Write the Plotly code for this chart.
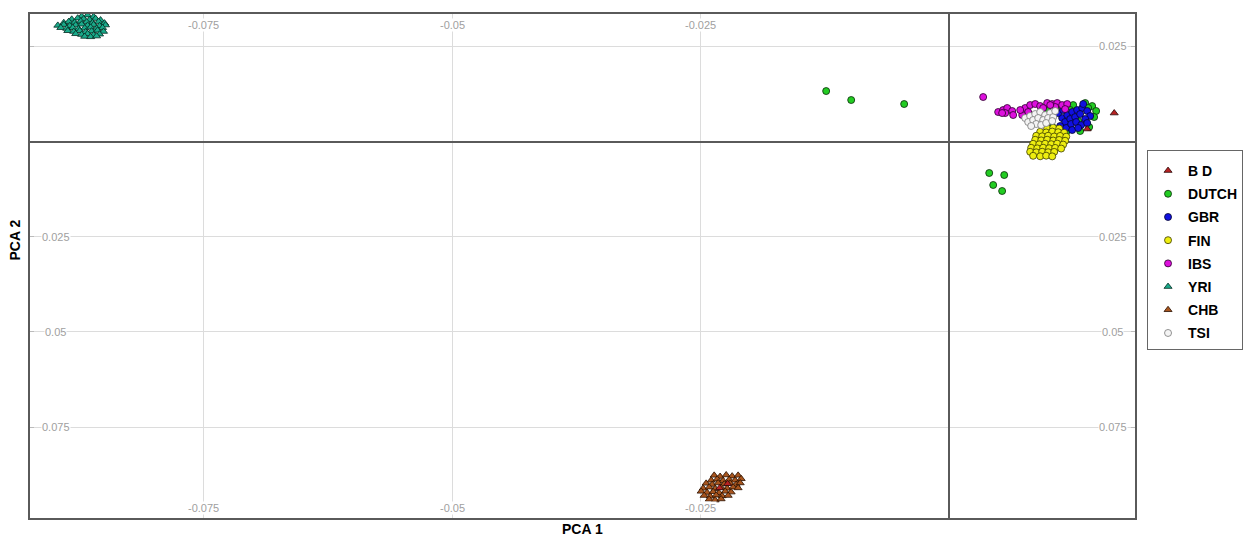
import plotly.graph_objects as go

# ---- sample coordinates on the first two principal components ----
groups = ["B D", "DUTCH", "GBR", "FIN", "IBS", "YRI", "CHB", "TSI"]

bd_pc1 = [0.01661, 0.01389, -0.0231, -0.0223]
bd_pc2 = [0.00748, 0.00328, -0.0910, -0.0899]

dutch_pc1 = [-0.01238, -0.00986, -0.00453, 0.00403, 0.00554, 0.00443, 0.00533,
             0.01097, 0.01178, 0.01248, 0.01369, 0.01439, 0.01479, 0.01459, 0.01409,
             0.01318, 0.01178, 0.01037, 0.00986, 0.01399, 0.01218, 0.01298, 0.00886]
dutch_pc2 = [0.01326, 0.01090, 0.00985, -0.00827, -0.00880, -0.01142, -0.01300,
             0.00932, 0.00932, 0.00958, 0.01011, 0.00932, 0.00801, 0.00643, 0.00381,
             0.00276, 0.00249, 0.00381, 0.00827, 0.00880, 0.00827, 0.00538, 0.00118]

gbr_pc1 = [0.01137, 0.01188, 0.01238, 0.01288, 0.01339, 0.01389, 0.01419, 0.01167,
           0.01218, 0.01268, 0.01318, 0.01369, 0.01117, 0.01178, 0.01228, 0.01278,
           0.01328, 0.01389, 0.01238, 0.01298, 0.01097, 0.01147, 0.01349]
gbr_pc2 = [0.00617, 0.00696, 0.00775, 0.00827, 0.00880, 0.00801, 0.00670, 0.00512,
           0.00591, 0.00643, 0.00722, 0.00591, 0.00407, 0.00355, 0.00460, 0.00512,
           0.00433, 0.00486, 0.00302, 0.00355, 0.00748, 0.00827, 0.00985]

fin_pc1 = [0.00986, 0.01047, 0.01107,
           0.00916, 0.00976, 0.01037, 0.01097, 0.01157,
           0.00876, 0.00936, 0.00996, 0.01057, 0.01117, 0.01178,
           0.00866, 0.00926, 0.00986, 0.01047, 0.01107, 0.01167,
           0.00845, 0.00906, 0.00966, 0.01027, 0.01087, 0.01147,
           0.00825, 0.00886, 0.00946, 0.01006, 0.01067, 0.01127,
           0.00815, 0.00876, 0.00936, 0.00996, 0.01057,
           0.00845, 0.00916, 0.00976, 0.01037]
fin_pc2 = [0.00350, 0.00362, 0.00341,
           0.00255, 0.00238, 0.00262, 0.00244, 0.00231,
           0.00150, 0.00137, 0.00152, 0.00131, 0.00146, 0.00128,
           0.00045, 0.00030, 0.00048, 0.00026, 0.00041, 0.00020,
           -0.00060, -0.00074, -0.00058, -0.00070, -0.00055, -0.00080,
           -0.00165, -0.00180, -0.00162, -0.00176, -0.00168, -0.00185,
           -0.00270, -0.00284, -0.00268, -0.00281, -0.00272,
           -0.00375, -0.00388, -0.00372, -0.00390]

ibs_pc1 = [0.00342, 0.00493, 0.00543, 0.00584, 0.00634, 0.00644, 0.00564, 0.00533,
           0.00765, 0.00815, 0.00866, 0.00916, 0.00986, 0.01037, 0.01087, 0.01137,
           0.01188, 0.00795, 0.00946, 0.01067, 0.01167, 0.00735, 0.00715, 0.01017]
ibs_pc2 = [0.01169, 0.00775, 0.00827, 0.00880, 0.00801, 0.00696, 0.00748, 0.00748,
           0.00880, 0.00958, 0.00985, 0.00932, 0.01011, 0.00985, 0.01011, 0.00958,
           0.00985, 0.00775, 0.00880, 0.00906, 0.00853, 0.00696, 0.00827, 0.00958]

yri_pc1 = [-0.0873, -0.0867, -0.0861,
           -0.0883, -0.0877, -0.0871, -0.0865, -0.0859, -0.0854,
           -0.0891, -0.0886, -0.0880, -0.0874, -0.0868, -0.0862, -0.0856, -0.0850,
           -0.0897, -0.0891, -0.0885, -0.0879, -0.0873, -0.0867, -0.0861, -0.0855, -0.0849,
           -0.0894, -0.0888, -0.0882, -0.0876, -0.0870, -0.0864, -0.0858, -0.0852,
           -0.0887, -0.0881, -0.0875, -0.0869, -0.0863, -0.0857, -0.0851,
           -0.0879, -0.0873, -0.0867, -0.0861, -0.0855,
           -0.0870, -0.0864, -0.0858]
yri_pc2 = [0.0329, 0.0332, 0.0328,
           0.0321, 0.0324, 0.0322, 0.0320, 0.0323, 0.0319,
           0.0312, 0.0315, 0.0313, 0.0316, 0.0314, 0.0312, 0.0315, 0.0311,
           0.0305, 0.0307, 0.0304, 0.0306, 0.0308, 0.0305, 0.0307, 0.0304, 0.0306,
           0.0299, 0.0297, 0.0299, 0.0296, 0.0298, 0.0300, 0.0297, 0.0299,
           0.0291, 0.0289, 0.0291, 0.0288, 0.0290, 0.0292, 0.0289,
           0.0283, 0.0281, 0.0283, 0.0280, 0.0282,
           0.0276, 0.0275, 0.0277]

chb_pc1 = [-0.02365, -0.02305, -0.02244, -0.02184, -0.02124,
           -0.02395, -0.02335, -0.02275, -0.02214, -0.02154, -0.02093,
           -0.02446, -0.02385, -0.02325, -0.02264, -0.02204, -0.02144, -0.02103,
           -0.02476, -0.02415, -0.02355, -0.02295, -0.02234, -0.02174, -0.02124,
           -0.02496, -0.02436, -0.02375, -0.02315, -0.02254, -0.02194,
           -0.02466, -0.02405, -0.02345, -0.02285, -0.02224,
           -0.02415, -0.02355, -0.02295]
chb_pc2 = [-0.0877, -0.0880, -0.0876, -0.0879, -0.0877,
           -0.0890, -0.0887, -0.0891, -0.0888, -0.0890, -0.0886,
           -0.0898, -0.0901, -0.0897, -0.0900, -0.0898, -0.0901, -0.0897,
           -0.0911, -0.0908, -0.0912, -0.0909, -0.0911, -0.0908, -0.0910,
           -0.0919, -0.0922, -0.0920, -0.0923, -0.0919, -0.0921,
           -0.0930, -0.0932, -0.0929, -0.0931, -0.0930,
           -0.0940, -0.0942, -0.0939]

tsi_pc1 = [0.00765, 0.00815, 0.00866, 0.00916, 0.00966, 0.01017, 0.00795, 0.00845,
           0.00896, 0.00946, 0.00996, 0.01047, 0.00876, 0.00926, 0.00976, 0.00825,
           0.01067, 0.01037]
tsi_pc2 = [0.00617, 0.00670, 0.00722, 0.00775, 0.00696, 0.00748, 0.00512, 0.00565,
           0.00617, 0.00565, 0.00617, 0.00643, 0.00460, 0.00433, 0.00486, 0.00407,
           0.00801, 0.00538]

# grid positions and the labels written next to them
x_grid = [-0.075, -0.05, -0.025]
x_grid_text = ["-0.075", "-0.05", "-0.025"]
y_grid = [0.025, -0.025, -0.05, -0.075]
y_grid_text = ["0.025", "0.025", "0.05", "0.075"]
y_left = [-0.025, -0.05, -0.075]
y_left_text = ["0.025", "0.05", "0.075"]

data = {
    "B D": (bd_pc1, bd_pc2),
    "DUTCH": (dutch_pc1, dutch_pc2),
    "GBR": (gbr_pc1, gbr_pc2),
    "FIN": (fin_pc1, fin_pc2),
    "IBS": (ibs_pc1, ibs_pc2),
    "YRI": (yri_pc1, yri_pc2),
    "CHB": (chb_pc1, chb_pc2),
    "TSI": (tsi_pc1, tsi_pc2),
}

style = {
    "B D": dict(color="#b82222", symbol="triangle-up", line="#2a0a0a"),
    "DUTCH": dict(color="#22cc22", symbol="circle", line="#0a2a0a"),
    "GBR": dict(color="#1010e0", symbol="circle", line="#05052a"),
    "FIN": dict(color="#eeee10", symbol="circle", line="#3a3a00"),
    "IBS": dict(color="#dd10dd", symbol="circle", line="#2a002a"),
    "YRI": dict(color="#1aaa8a", symbol="triangle-up", line="#022a20"),
    "CHB": dict(color="#a8551e", symbol="triangle-up", line="#2a1000"),
    "TSI": dict(color="#f4f4f4", symbol="circle", line="#777777"),
}

draw_order = ["DUTCH", "GBR", "FIN", "IBS", "TSI", "YRI", "CHB", "B D"]

fig = go.Figure()
for name in draw_order:
    xs, ys = data[name]
    st = style[name]
    fig.add_trace(go.Scatter(
        x=xs, y=ys, mode="markers", name=name,
        legendgroup=name, legendrank=groups.index(name) + 1,
        marker=dict(size=7, color=st["color"], symbol=st["symbol"],
                    line=dict(color=st["line"], width=0.8)),
    ))

annotations = []
lab_font = dict(family="Liberation Sans, Arial", size=11, color="#a0a0a0")
for v, t in zip(x_grid, x_grid_text):
    for py in (0.978, 0.0198):
        annotations.append(dict(x=v, y=py, xref="x", yref="paper", text=t,
                                showarrow=False, font=lab_font, bgcolor="white",
                                xanchor="center", yanchor="middle", borderpad=0))
for v, t in zip(y_left, y_left_text):
    annotations.append(dict(x=0.0235, y=v, xref="paper", yref="y", text=t,
                            showarrow=False, font=lab_font, bgcolor="white",
                            xanchor="center", yanchor="middle", borderpad=0))
for v, t in zip(y_grid, y_grid_text):
    annotations.append(dict(x=0.98, y=v, xref="paper", yref="y", text=t,
                            showarrow=False, font=lab_font, bgcolor="white",
                            xanchor="center", yanchor="middle", borderpad=0))

title_font = dict(family="Liberation Sans, Arial", size=14, color="black")
annotations.append(dict(x=0.5, y=-0.002, xref="paper", yref="paper", text="<b>PCA 1</b>",
                        showarrow=False, font=title_font, yanchor="top"))
annotations.append(dict(x=-0.014, y=0.5516, xref="paper", yref="paper", text="<b>PCA 2</b>",
                        showarrow=False, font=title_font, textangle=-90,
                        xanchor="center", yanchor="middle"))

fig.update_layout(
    width=1250, height=540,
    margin=dict(l=30, r=115, t=14, b=22, autoexpand=False),
    paper_bgcolor="white", plot_bgcolor="white",
    showlegend=True,
    legend=dict(x=1.0109, y=0.730, xanchor="left", yanchor="top",
                bordercolor="#666666", borderwidth=1, bgcolor="white",
                traceorder="grouped", tracegroupgap=2,
                title=dict(text=" ", font=dict(size=3)),
                font=dict(family="Liberation Sans, Arial", size=14, color="black",
                          weight="bold")),
    annotations=annotations,
    xaxis=dict(range=[-0.0925, 0.0187], tickvals=x_grid, showticklabels=False,
               showgrid=True, gridcolor="#dcdcdc", gridwidth=1,
               zeroline=True, zerolinecolor="#5a5a5a", zerolinewidth=1.5,
               showline=True, linecolor="#5a5a5a", linewidth=1.5, mirror=True,
               ticks=""),
    yaxis=dict(range=[-0.0989, 0.0335], tickvals=y_grid, showticklabels=False,
               showgrid=True, gridcolor="#dcdcdc", gridwidth=1,
               zeroline=True, zerolinecolor="#5a5a5a", zerolinewidth=1.5,
               showline=True, linecolor="#5a5a5a", linewidth=1.5, mirror="ticks",
               ticks="inside", ticklen=4, tickcolor="#bbbbbb"),
)

fig.write_html("out.html")
